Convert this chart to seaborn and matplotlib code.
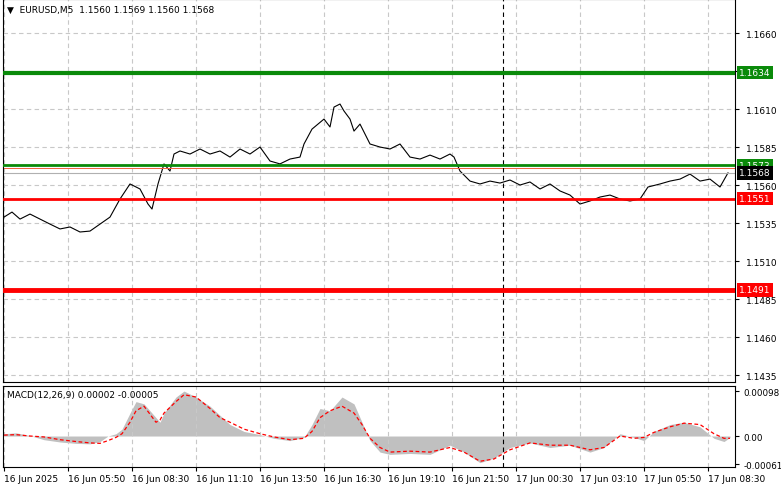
import numpy as np
import pandas as pd
import seaborn as sns
import matplotlib.pyplot as plt

# price (close) at 5-minute bar index
price_bars = [0, 4, 8, 13, 18, 23, 28, 33, 38, 43, 48, 53, 58, 63, 68, 72, 74, 77, 80, 83,
              85, 88, 93, 98, 103, 108, 113, 118, 123, 128, 133, 138, 143, 148, 150, 154, 157,
              160, 163, 165, 168, 170, 173, 175, 178, 183, 188, 193, 198, 203, 208, 213, 218,
              223, 225, 228, 233, 238, 243, 248, 253, 258, 263, 268, 273, 278, 283, 288, 293,
              298, 303, 308, 313, 318, 322, 328, 333, 338, 343, 348, 353, 358, 362]
price_vals = [1.15389, 1.15422, 1.15376, 1.15409, 1.15376, 1.15343, 1.15311, 1.15324, 1.15291,
              1.15297, 1.15343, 1.15389, 1.15508, 1.15607, 1.15574, 1.15475, 1.15442, 1.15607,
              1.15739, 1.15692, 1.15804, 1.15824, 1.15804, 1.15837, 1.15804, 1.15824, 1.15784,
              1.15837, 1.15804, 1.15850, 1.15758, 1.15739, 1.15771, 1.15784, 1.15870, 1.15968,
              1.16001, 1.16034, 1.15982, 1.16113, 1.16133, 1.16087, 1.16034, 1.15955, 1.16001,
              1.15870, 1.15850, 1.15837, 1.15870, 1.15784, 1.15771, 1.15797, 1.15771, 1.15804,
              1.15784, 1.15692, 1.15626, 1.15607, 1.15626, 1.15613, 1.15633, 1.15600, 1.15620,
              1.15574, 1.15607, 1.15561, 1.15534, 1.15475, 1.15495, 1.15521, 1.15534, 1.15508,
              1.15495, 1.15508, 1.15587, 1.15607, 1.15626, 1.15639, 1.15672, 1.15626, 1.15639,
              1.15587, 1.15680]

# MACD (units of 1e-4)
macd_bars = [0, 6, 13, 20, 28, 36, 43, 48, 52, 56, 59, 63, 66, 70, 76, 78, 80, 86, 90, 96, 103,
             108, 113, 120, 128, 135, 143, 150, 154, 158, 163, 169, 175, 179, 183, 188, 193, 203,
             213, 223, 230, 238, 245, 253, 263, 273, 283, 293, 300, 308, 315, 320, 325, 333, 340,
             348, 355, 360, 363]
macd_hist = [0.5, 0.7, 0.1, -0.8, -1.3, -1.6, -1.7, -1.2, 0.0, 0.5, 1.5, 5.0, 7.5, 7.0, 4.0,
             3.0, 5.0, 8.5, 9.8, 8.5, 6.5, 4.5, 2.5, 1.0, 0.3, -0.5, -1.0, -0.3, 2.5, 6.0, 5.5,
             8.5, 7.0, 3.0, -1.0, -3.5, -4.0, -3.8, -4.0, -2.0, -3.5, -5.8, -4.8, -2.5, -1.5,
             -2.5, -2.0, -3.5, -2.5, 0.5, -0.3, -1.0, 1.0, 2.5, 3.0, 2.0, -0.5, -1.2, -0.3]
macd_signal = [0.2, 0.3, 0.0, -0.2, -0.8, -1.2, -1.5, -1.6, -1.0, -0.3, 0.5, 3.0, 5.5, 6.5,
               3.0, 3.5, 5.0, 7.5, 9.0, 8.5, 6.0, 4.0, 3.0, 1.5, 0.5, -0.2, -0.8, -0.5, 1.0,
               4.0, 5.5, 6.5, 5.0, 2.5, -0.5, -2.5, -3.5, -3.3, -3.5, -2.5, -3.5, -5.5, -5.0,
               -3.0, -1.5, -2.0, -2.0, -3.0, -2.5, 0.0, -0.5, -0.3, 0.8, 2.0, 2.8, 2.5, 0.5,
               -0.5, -0.5]

price_ticks = [1.1660, 1.1635, 1.1610, 1.1585, 1.1560, 1.1535, 1.1510, 1.1485, 1.1460, 1.1435]
price_tick_labels = ['1.1660', '', '1.1610', '1.1585', '1.1560', '1.1535', '1.1510',
                     '1.1485', '1.1460', '1.1435']
time_ticks = [0, 32, 64, 96, 128, 160, 192, 224, 256, 288, 320, 352]
time_labels = ['16 Jun 2025', '16 Jun 05:50', '16 Jun 08:30', '16 Jun 11:10', '16 Jun 13:50',
               '16 Jun 16:30', '16 Jun 19:10', '16 Jun 21:50', '17 Jun 00:30', '17 Jun 03:10',
               '17 Jun 05:50', '17 Jun 08:30']
levels = [1.1634, 1.1573, 1.1551, 1.1491]
level_colors = ['#0a8a0a', '#0a8a0a', '#ff0000', '#ff0000']
level_widths = [3, 2, 2, 3.5]
bid = 1.1568
separator_bar = 249.5

plt.rcParams['font.family'] = 'DejaVu Sans'
plt.rcParams['font.size'] = 6.5

fig = plt.figure(figsize=(7.81, 4.89), dpi=100)
W, H = 781, 489
ax = fig.add_axes([3 / W, 1 - 383 / H, 732 / W, 383 / H])
ax2 = fig.add_axes([3 / W, 1 - 468 / H, 732 / W, 81 / H])
xlim = (-0.5, 365.5)
grid_kw = dict(color='#c8c8c8', linestyle=(0, (4, 3)), linewidth=0.8)


def price_box(value, color):
    ax.text(1.006, value, f'{value:.4f}', transform=ax.get_yaxis_transform(), color='white',
            va='center', ha='left', fontsize=6.5, clip_on=False, zorder=10,
            bbox=dict(boxstyle='square,pad=0.25', fc=color, ec='none'))


df = pd.DataFrame({'bar': price_bars, 'price': price_vals})
sns.lineplot(data=df, x='bar', y='price', ax=ax, color='black', linewidth=0.8)
ax.set_xlim(*xlim)
ax.set_ylim(1.14304, 1.16824)
ax.set_xticks(time_ticks)
ax.grid(True, **grid_kw)
ax.set_axisbelow(True)
ax.yaxis.tick_right()
ax.set_yticks(price_ticks)
ax.set_yticklabels(price_tick_labels)
ax.tick_params(axis='x', labelbottom=False, length=0)
ax.tick_params(axis='y', length=3, pad=5)
ax.set_xlabel('')
ax.set_ylabel('')

for lv, c, lw in zip(levels, level_colors, level_widths):
    ax.axhline(lv, color=c, linewidth=lw, zorder=3)
    price_box(lv, c)
ax.axhline(bid, color='#b0b0b0', linewidth=0.8, zorder=2)
ax.axhline(1.15715, color='#f06040', linewidth=0.7, zorder=2)
price_box(bid, 'black')
ax.axvline(separator_bar, color='black', linestyle=(0, (4, 3)), linewidth=0.8)
ax.text(0.005, 0.985, '\u25bc  EURUSD,M5  1.1560 1.1569 1.1560 1.1568', transform=ax.transAxes,
        va='top', ha='left', fontsize=6.5)

ax2.fill_between(macd_bars, 0, macd_hist, color='#c0c0c0', linewidth=0)
sd = pd.DataFrame({'bar': macd_bars, 'signal': macd_signal})
sns.lineplot(data=sd, x='bar', y='signal', ax=ax2, color='red', linewidth=0.9,
             linestyle=(0, (3, 2)))
ax2.set_xlim(*xlim)
ax2.set_ylim(-6.75, 10.9)
ax2.yaxis.tick_right()
ax2.set_yticks([9.8, 0.0, -6.1])
ax2.set_yticklabels(['0.00098', '0.00', '-0.00061'])
ax2.set_xticks(time_ticks)
ax2.set_xticklabels(time_labels, ha='left')
ax2.grid(True, axis='x', **grid_kw)
ax2.axvline(separator_bar, color='black', linestyle=(0, (4, 3)), linewidth=0.8)
ax2.tick_params(axis='y', length=3, pad=3, labelsize=6.3)
ax2.tick_params(axis='x', length=3, pad=2)
ax2.set_xlabel('')
ax2.set_ylabel('')
ax2.text(0.005, 0.95, 'MACD(12,26,9) 0.00002 -0.00005', transform=ax2.transAxes,
         va='top', ha='left', fontsize=6.5)

for a in (ax, ax2):
    for s in a.spines.values():
        s.set_linewidth(0.8)

fig.savefig('out.png', dpi=100)
